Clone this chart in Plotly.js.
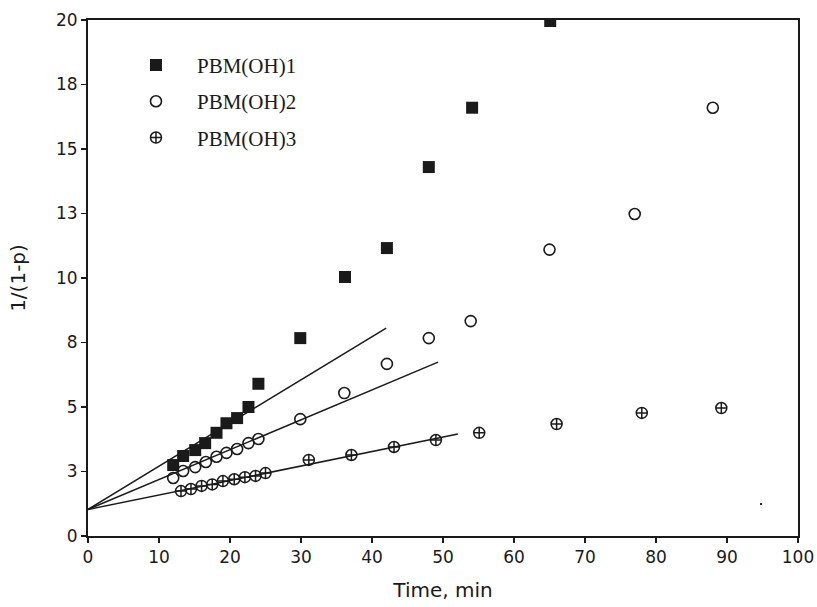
<!DOCTYPE html>
<html>
<head>
<meta charset="utf-8">
<script src="https://cdn.plot.ly/plotly-3.0.1.min.js"></script>
<style>html,body{margin:0;padding:0;background:#fff}#chart{width:817px;height:607px}</style>
</head>
<body>
<div id="chart"></div>
<script>
// Series 1: PBM(OH)1 (filled squares)
var s1Time = [12.0, 13.4, 15.1, 16.5, 18.1, 19.5, 21.0, 22.6, 24.0, 29.9, 36.2, 42.1, 48.0, 54.1, 65.1];
var s1Val  = [2.75, 3.10, 3.33, 3.60, 4.00, 4.37, 4.57, 5.00, 5.90, 7.67, 10.04, 11.16, 14.3, 16.6, 19.96];
// Series 2: PBM(OH)2 (open circles)
var s2Time = [12.0, 13.4, 15.1, 16.6, 18.1, 19.5, 21.0, 22.6, 24.0, 29.9, 36.1, 42.1, 48.0, 53.9, 65.0, 77.0, 88.0];
var s2Val  = [2.25, 2.52, 2.67, 2.87, 3.07, 3.22, 3.37, 3.60, 3.76, 4.53, 5.54, 6.67, 7.67, 8.33, 11.1, 12.48, 16.6];
// Series 3: PBM(OH)3 (crossed circles)
var s3Time = [13.1, 14.5, 16.0, 17.5, 19.0, 20.6, 22.1, 23.6, 25.0, 31.1, 37.1, 43.1, 49.0, 55.1, 66.0, 78.0, 89.2];
var s3Val  = [1.74, 1.82, 1.94, 2.00, 2.13, 2.20, 2.28, 2.33, 2.44, 2.95, 3.14, 3.45, 3.72, 4.00, 4.34, 4.77, 4.96];
// Linear fit lines (start and end points)
var fit1Time = [0, 42.0];  var fit1Val = [1.03, 8.06];
var fit2Time = [0, 49.3];  var fit2Val = [1.03, 6.74];
var fit3Time = [0, 52.1];  var fit3Val = [1.03, 3.95];
// Stray speck in the original figure
var speckTime = [94.8]; var speckVal = [1.24];
// Axis ticks
var xTicks = [0, 10, 20, 30, 40, 50, 60, 70, 80, 90, 100];
var yTickVals = [0, 2.5, 5, 7.5, 10, 12.5, 15, 17.5, 20];
var yTickText = ["0", "3", "5", "8", "10", "13", "15", "18", "20"];
var seriesNames = ["PBM(OH)1", "PBM(OH)2", "PBM(OH)3"];

var black = "#1a1a1a";
var traces = [
  {x: fit1Time, y: fit1Val, mode: "lines", line: {color: black, width: 1.5}, showlegend: false, hoverinfo: "skip"},
  {x: fit2Time, y: fit2Val, mode: "lines", line: {color: black, width: 1.5}, showlegend: false, hoverinfo: "skip"},
  {x: fit3Time, y: fit3Val, mode: "lines", line: {color: black, width: 1.5}, showlegend: false, hoverinfo: "skip"},
  {x: s1Time, y: s1Val, name: seriesNames[0], mode: "markers", legendgroup: "a",
   marker: {symbol: "square", size: 12, color: black}},
  {x: s2Time, y: s2Val, name: seriesNames[1], mode: "markers", legendgroup: "b",
   marker: {symbol: "circle-open", size: 11, color: black, line: {width: 1.6, color: black}}},
  {x: s3Time, y: s3Val, name: seriesNames[2], mode: "markers", legendgroup: "c",
   marker: {symbol: "circle-cross-open", size: 11, color: black, line: {width: 1.5, color: black}}},
  {x: speckTime, y: speckVal, mode: "markers", showlegend: false, hoverinfo: "skip",
   marker: {symbol: "square", size: 2, color: black}}
];

var layout = {
  width: 817, height: 607,
  margin: {l: 88, r: 19, t: 20, b: 71, pad: 0},
  paper_bgcolor: "#fff", plot_bgcolor: "#fff",
  showlegend: true,
  legend: {x: 0.038, y: 0.952, xanchor: "left", yanchor: "top", bgcolor: "rgba(0,0,0,0)",
           borderwidth: 0, itemwidth: 72, tracegroupgap: 6,
           font: {family: "Liberation Serif, Times New Roman, serif", size: 21, color: black}},
  xaxis: {
    range: [0, 100], tickvals: xTicks, ticks: "outside", ticklen: 5, tickwidth: 1.5, tickcolor: black,
    showline: true, linewidth: 2, linecolor: black, mirror: true, showgrid: false, zeroline: false,
    tickfont: {family: "DejaVu Sans, Arial, sans-serif", size: 17, color: black},
    title: {text: "Time, min", standoff: 17, font: {family: "DejaVu Sans, Arial, sans-serif", size: 20, color: black}}
  },
  yaxis: {
    range: [0, 20], tickvals: yTickVals, ticktext: yTickText, ticks: "outside", ticklen: 5, tickwidth: 1.5, tickcolor: black,
    showline: true, linewidth: 2, linecolor: black, mirror: true, showgrid: false, zeroline: false,
    tickfont: {family: "DejaVu Sans, Arial, sans-serif", size: 17, color: black},
    title: {text: "1/(1-p)", standoff: 25, font: {family: "DejaVu Sans, Arial, sans-serif", size: 20, color: black}}
  }
};

Plotly.newPlot("chart", traces, layout, {displayModeBar: false, staticPlot: true});
</script>
</body>
</html>
